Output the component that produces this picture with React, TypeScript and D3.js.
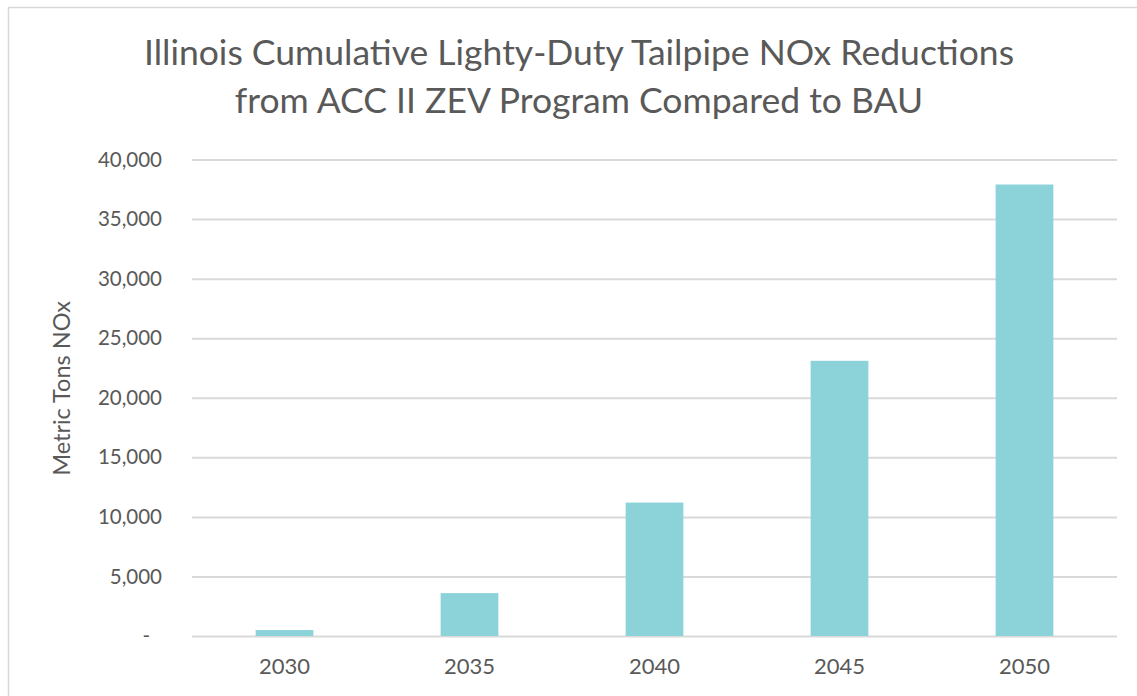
import * as d3 from "d3";
import React, { useRef, useEffect } from "react";

const years = ["2030", "2035", "2040", "2045", "2050"];
const noxReductions = [500, 3600, 11200, 23100, 37900];
const yTicks = [0, 5000, 10000, 15000, 20000, 25000, 30000, 35000, 40000];
const titleLines = [
  "Illinois Cumulative Lighty-Duty Tailpipe NOx Reductions",
  "from ACC II ZEV Program Compared to BAU",
];
const yLabel = "Metric Tons NOx";

const width = 1137;
const height = 696;
const margin = { top: 159.5, right: 20, bottom: 60, left: 192 };
const textColor = "#595959";
const gridColor = "#d9d9d9";
const barColor = "#8bd3d9";
const font = "Lato, 'Open Sans', sans-serif";

function Chart() {
  const ref = useRef(null);

  useEffect(() => {
    const svg = d3.select(ref.current);
    svg.selectAll("*").remove();

    const scaleX = d3
      .scaleBand()
      .domain(years)
      .range([margin.left, width - margin.right])
      .paddingInner(0.688)
      .paddingOuter(0.344);

    const scaleY = d3
      .scaleLinear()
      .domain([0, 40000])
      .range([height - margin.bottom, margin.top]);

    // outer frame
    svg
      .append("rect")
      .attr("x", 8.5)
      .attr("y", 7.5)
      .attr("width", 1200)
      .attr("height", 800)
      .attr("fill", "white")
      .attr("stroke", gridColor)
      .attr("stroke-width", 1.5);

    // title
    svg
      .append("g")
      .selectAll("text")
      .data(titleLines)
      .join("text")
      .attr("x", 579)
      .attr("y", (d, i) => 65 + i * 48)
      .attr("text-anchor", "middle")
      .attr("fill", textColor)
      .style("font-family", font)
      .style("font-size", "35.5px")
      .text((d) => d);

    // y axis + grid
    const yAxis = svg
      .append("g")
      .attr("transform", `translate(${margin.left},0)`)
      .call(
        d3
          .axisLeft(scaleY)
          .tickValues(yTicks)
          .tickSize(-(width - margin.right - margin.left))
          .tickPadding(30)
          .tickFormat((d: any) => (d === 0 ? "-" : d3.format(",")(d)))
      );
    yAxis.select(".domain").remove();
    yAxis
      .selectAll(".tick line")
      .attr("stroke", gridColor)
      .attr("stroke-width", 2);
    yAxis
      .selectAll(".tick text")
      .attr("fill", textColor)
      .style("font-family", font)
      .style("font-size", "20.5px");
    yAxis
      .selectAll(".tick text")
      .filter((d: any) => d === 0)
      .attr("dx", -12);

    // bars
    svg
      .append("g")
      .selectAll("rect")
      .data(noxReductions)
      .join("rect")
      .attr("x", (d, i) => scaleX(years[i]) as number)
      .attr("y", (d) => scaleY(d))
      .attr("width", scaleX.bandwidth())
      .attr("height", (d) => scaleY(0) - scaleY(d))
      .attr("fill", barColor);

    // x axis labels
    const xAxis = svg
      .append("g")
      .attr("transform", `translate(0,${scaleY(0)})`)
      .call(d3.axisBottom(scaleX).tickSize(0).tickPadding(22));
    xAxis.select(".domain").remove();
    xAxis
      .selectAll(".tick text")
      .attr("fill", textColor)
      .style("font-family", font)
      .style("font-size", "22px");

    // y axis title
    svg
      .append("text")
      .attr("transform", `translate(70,${(300 + 477) / 2}) rotate(-90)`)
      .attr("text-anchor", "middle")
      .attr("fill", textColor)
      .style("font-family", font)
      .style("font-size", "23.5px")
      .text(yLabel);
  }, []);

  return (
    <svg
      ref={ref}
      width={width}
      height={height}
      style={{ position: "absolute", left: 0, top: 0, background: "white" }}
    ></svg>
  );
}

export default function App() {
  return <Chart />;
}
